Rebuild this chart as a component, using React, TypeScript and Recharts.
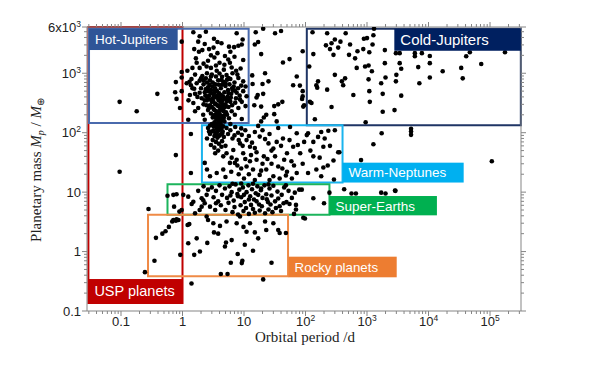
import React from 'react'
import { ScatterChart, Scatter, XAxis, YAxis, ReferenceArea } from 'recharts'

type Pt = [number, number] // [orbital period (d), mass (Earth masses)]

const hotJupiters: Pt[] = [
  [1.5, 4900], [2.4, 5000], [7.6, 4700], [1.9, 4200], [3.25, 3800], [3.7, 3350], [4.3, 3200], [5.7, 2800],
  [6.9, 2750], [8.1, 2900], [9.5, 3700], [9.2, 3050], [1.8, 3400], [2.3, 3100], [1.55, 2550], [2.1, 2450],
  [2.7, 2550], [1.85, 2300], [1.65, 1780], [3.7, 2180], [3.3, 1840], [2.6, 1620], [1.45, 1230], [1.9, 1230],
  [2.47, 1300], [2.9, 1230], [3.5, 1350], [4.8, 1390], [5.55, 1700], [9.7, 1670], [7.45, 1100], [8.1, 830],
  [9.7, 730], [10.6, 600], [9.7, 500], [11, 410], [9.2, 330], [10.6, 280], [8.1, 260], [7.1, 200], [9.2, 170],
  [1.24, 165], [0.97, 500], [0.97, 850], [0.91, 260], [1.17, 680], [1.37, 630], [1.32, 430], [1.5, 315],
  [1.8, 260], [1.6, 230], [2.17, 200], [2.3, 165], [0.97, 3400], [0.97, 1050], [0.78, 710], [0.8, 370],
  [0.76, 480], [2.1, 900], [2.4, 820], [2.8, 760], [3.1, 700], [3.5, 880], [3.9, 640], [4.2, 560], [4.6, 720],
  [5.0, 610], [5.5, 520], [6.2, 450], [6.8, 600], [7.4, 380], [2.2, 650], [2.6, 580], [2.9, 520], [3.3, 470],
  [3.7, 420], [4.1, 390], [4.5, 350], [3.0, 330], [3.4, 300], [3.8, 280], [4.2, 260], [4.6, 240], [5.1, 220],
  [3.2, 250], [3.6, 230], [4.0, 210], [4.4, 190], [3.5, 180], [3.9, 170], [4.3, 160], [3.3, 150], [2.5, 1000],
  [3.0, 950], [3.6, 1100], [4.0, 990], [4.4, 870], [5.2, 930], [6.0, 800], [6.5, 1000], [7.0, 700], [5.8, 650],
  [2.0, 560], [2.3, 480], [2.7, 420], [3.1, 380], [2.5, 350], [2.8, 290], [2.2, 300], [2.6, 240], [2.9, 210],
  [3.1, 180], [5.4, 400], [6.0, 330], [5.0, 300], [5.6, 270], [6.4, 290], [7.2, 320], [8.5, 420], [8.0, 560],
  [9.0, 620], [7.8, 950], [8.8, 1200], [6.3, 1250], [4.7, 1150], [4.0, 1500], [5.9, 1500], [7.0, 1900],
  [4.9, 1950], [6.0, 2300], [3.2, 2700], [2.9, 2000], [1.7, 1500], [2.2, 1450], [1.4, 800], [1.6, 950],
  [1.9, 750], [1.2, 1100], [1.55, 550], [1.75, 400], [2.05, 380], [4.8, 480], [3.4, 560], [3.8, 760],
  [4.4, 640], [5.3, 780], [6.6, 520], [7.6, 470], [8.6, 360], [3.9, 350], [4.3, 320], [4.9, 270], [5.3, 200],
  [4.7, 180], [5.7, 175], [6.3, 230], [3.6, 200], [4.1, 240],
  [2.2, 760], [2.5, 700], [2.75, 640], [3.05, 600], [3.35, 540], [3.65, 500], [3.95, 460], [4.25, 430],
  [4.55, 410], [4.85, 380], [2.4, 540], [2.65, 500], [2.95, 460], [3.25, 420], [3.55, 390], [3.85, 360],
  [4.15, 330], [4.45, 300], [4.75, 280], [2.35, 420], [2.55, 390], [2.85, 360], [3.15, 340], [3.45, 310],
  [3.75, 290], [4.05, 270], [4.35, 250], [4.65, 230], [4.95, 205], [3.0, 270], [3.3, 240], [3.6, 215],
  [3.9, 195], [4.2, 175], [4.5, 165], [4.8, 155], [3.4, 200], [3.7, 185], [4.0, 155], [3.55, 165], [3.85, 150],
  [4.15, 145], [3.2, 195], [2.7, 260], [2.45, 290], [2.3, 350], [5.3, 340], [5.8, 360], [6.1, 390], [5.6, 460],
  [6.4, 560], [7.1, 510], [5.0, 680], [5.6, 830], [4.3, 770], [3.4, 650], [2.9, 880], [2.0, 820], [1.7, 680],
  [1.45, 560], [1.3, 720], [1.25, 350], [1.6, 450], [1.9, 470],
]

const coldJupiters: Pt[] = [
  [130, 4900], [225, 4700], [450, 4700], [890, 3800], [1000, 3900], [300, 3700], [265, 3200], [215, 2950],
  [250, 2550], [340, 2700], [370, 3400], [530, 3050], [700, 2350], [870, 2550], [1090, 2250], [1270, 4350],
  [1230, 3050], [510, 2040], [640, 1780], [285, 2040], [134, 2100], [1950, 2450], [2950, 2180], [3400, 2180],
  [6000, 2180], [6000, 1930], [10500, 1950], [7800, 2180], [41000, 1930], [47000, 2250], [175000, 2250],
  [72000, 1430], [36000, 820], [34000, 1230], [17000, 1080], [10500, 850], [10500, 1480], [6800, 1270],
  [7100, 680], [3600, 1190], [3000, 940], [2950, 730], [3400, 1480], [1950, 1480], [2000, 850], [1700, 680],
  [1800, 450], [3600, 420], [2800, 240], [1800, 225], [950, 150], [1110, 330], [1090, 500], [1060, 790],
  [1200, 1080], [930, 1300], [680, 1230], [1060, 1350], [600, 430], [410, 630], [440, 820], [300, 940],
  [225, 530], [160, 730], [150, 630], [155, 570], [115, 1300], [118, 330], [125, 315], [265, 270], [142, 168],
  [1300, 5600], [390, 730],
]

const midGiants: Pt[] = [
  [15.5, 4900], [20.5, 5600], [32, 4700], [40, 5150], [17, 3350], [15, 3050], [19, 2100], [90, 2350],
  [55, 1730], [43, 1520], [22, 1000], [13.6, 920], [13.8, 660], [20, 660], [25, 730], [72, 880], [63, 630],
  [81, 620], [90, 500], [88, 370], [16.7, 430], [16, 390], [20.5, 450], [14.7, 290], [19, 275], [31, 280],
  [36, 300], [42, 330], [23, 200], [21, 180], [31, 205], [19, 155], [34, 155], [56, 125], [92, 275], [95, 290],
  [90, 410],
]

const warmNeptunes: Pt[] = [
  [3.0, 140], [3.4, 130], [3.8, 125], [4.2, 135], [2.6, 120], [3.2, 110], [3.6, 100], [4.0, 112], [4.5, 105],
  [2.8, 95], [3.3, 88], [3.7, 82], [4.1, 92], [4.7, 85], [5.2, 120], [3.1, 75], [3.5, 70], [3.9, 65], [4.4, 72],
  [2.9, 62], [3.3, 56], [3.8, 50], [4.3, 58], [5.0, 60], [5.5, 95], [2.5, 80], [2.7, 105], [6.0, 110],
  [6.5, 80], [7.2, 125], [8.0, 100], [9.0, 118], [1.37, 95], [0.78, 42], [1.37, 21], [9.2, 92], [15, 103],
  [18, 86], [25, 66], [34, 70], [43, 80], [72, 98], [105, 91], [134, 70], [180, 103], [235, 108], [300, 110],
  [340, 47], [195, 58], [285, 34], [150, 24], [110, 21], [72, 21], [50, 22], [36, 27], [28, 30], [21, 40],
  [16, 47], [12.5, 58], [9.7, 45], [7.6, 35], [5.9, 31], [4.6, 24], [3.6, 21], [2.8, 18.5], [2.5, 24],
  [2.3, 31], [3.4, 45], [4.6, 40], [6.7, 51], [8.6, 66], [11, 75], [7.1, 31], [11, 27], [14, 24], [18, 19.5],
  [23, 24], [30, 18.5], [38, 17], [59, 33], [82, 45], [50, 45], [63, 58], [30, 54], [12.5, 33], [110, 98],
  [205, 80], [355, 47], [134, 40], [195, 26], [180, 18.5], [290, 16.3], [6.0, 140], [7.0, 90], [8.2, 75],
  [9.5, 60], [10.5, 110], [12, 88], [13.5, 68], [15, 55], [17, 130], [20, 110], [22, 78], [26, 95], [28, 50],
  [32, 40], [36, 120], [40, 60], [45, 35], [55, 75], [65, 28], [75, 62], [90, 30], [95, 70], [120, 50],
  [160, 85], [170, 38], [250, 60], [230, 28], [5.2, 45], [6.3, 38], [7.8, 28], [9.0, 25], [10.5, 36], [13, 42],
  [16, 35], [20, 30], [24, 36], [5.0, 18], [6.2, 22], [8.2, 20], [10, 17], [12, 20], [15, 16], [19, 23],
  [26, 16], [42, 25], [48, 19], [60, 17],
  [3.2, 128], [3.6, 118], [4.0, 128], [3.4, 100], [3.8, 108], [4.3, 118], [3.0, 105], [3.5, 92], [3.9, 88],
  [4.4, 98], [3.6, 140], [4.6, 128], [2.8, 132],
]

const superEarths: Pt[] = [
  [67, 9.8], [79, 11], [87, 11], [134, 7.9], [200, 6.5], [245, 9.8], [70, 6.1], [70, 5.1], [92, 3.7],
  [98, 3.6], [65, 4.3], [55, 6.3], [0.57, 8.7], [0.71, 9.0], [0.8, 9.2], [1.03, 9.0], [0.89, 4.7], [0.97, 5.0],
  [0.73, 5.7], [1.41, 6.3], [1.6, 4.4], [1.24, 8.4], [1.5, 6.9], [2.05, 7.9], [2.47, 9.0], [2.8, 5.7],
  [3.4, 5.0], [3.5, 6.5], [0.71, 3.4], [0.8, 3.5], [3.0, 12], [3.5, 10.5], [4.0, 13], [4.4, 9], [4.9, 11.5],
  [5.3, 8], [5.8, 12.5], [6.3, 10], [6.8, 7.2], [7.3, 13.5], [7.8, 9.3], [8.4, 11], [9.0, 8.2], [9.6, 12],
  [10.3, 6.8], [11, 10], [11.8, 13], [12.6, 8.5], [13.5, 11.2], [14.5, 7.5], [15.5, 9.6], [16.5, 12.5],
  [17.6, 6.2], [18.8, 10.8], [20, 8], [21.5, 13], [23, 9.2], [24.5, 6.8], [26, 11.5], [28, 8.8], [30, 12.8],
  [32, 7], [35, 10.2], [38, 5.8], [41, 9], [45, 12], [49, 6.8], [53, 10.5], [4.2, 6], [5.0, 5], [5.6, 6.6],
  [6.5, 4.6], [7.0, 5.6], [8.0, 4.2], [8.8, 6.0], [9.8, 4.8], [10.8, 5.4], [12, 4.3], [13, 6.1], [14, 5.2],
  [15, 4.5], [16, 7], [18, 4.9], [19.5, 5.8], [22, 4.4], [23.5, 7.6], [25, 5.1], [27, 6.2], [29, 4.6],
  [33, 5.4], [36, 7.8], [40, 4.8], [44, 6.5], [3.2, 8.2], [3.8, 7], [2.6, 11], [2.2, 12.5], [1.8, 10.5],
  [1.9, 5], [2.3, 6.5], [6, 8.8], [8, 8.5], [10, 9], [12, 7.5], [17, 9], [19, 11.5], [25, 13.5], [60, 8],
  [48, 13], [14, 13.8], [9, 14], [6.5, 13.8], [425, 11.2], [560, 9.5], [660, 9.5], [1700, 9.8], [2900, 10.5],
]

const rockyPlanets: Pt[] = [
  [0.28, 5.2], [0.37, 1.7], [0.47, 2.0], [0.53, 2.2], [0.6, 2.6], [0.68, 3.2], [0.78, 3.3], [0.86, 3.4],
  [0.35, 0.7], [0.245, 0.45], [0.92, 0.88], [1.4, 0.29], [1.24, 1.38], [1.29, 2.9], [1.55, 0.88], [1.7, 1.67],
  [1.92, 1.0], [2.53, 1.4], [4.2, 0.42], [5.4, 0.42], [6.1, 0.65], [9.4, 0.7], [7.9, 0.91], [20.5, 0.34],
  [28, 0.65], [1.21, 2.8], [4.9, 1.22], [5.1, 1.42], [6.3, 1.56], [3.8, 2.0], [3.25, 2.1], [4.07, 2.7],
  [3.17, 3.0], [2.6, 3.4], [2.47, 3.9], [2.05, 5.7], [2.18, 7.3], [5.2, 3.2], [7.6, 3.0], [9.8, 2.6], [11, 2.15],
  [15, 2.1], [17, 1.67], [14, 1.03], [36, 2.3], [38, 2.05], [48, 2.05], [23, 2.3], [22, 3.2], [30, 3.0],
  [12.5, 3.0], [8.6, 3.9], [10.3, 1.3], [9.2, 0.64],
]

const outliers: Pt[] = [
  [0.095, 330], [0.18, 230], [0.39, 450], [0.095, 22], [1730, 98], [5200, 116], [5200, 92], [5200, 105],
  [1270, 64], [800, 34.6], [107000, 33], [2000, 9.5], [2850, 10.6],
]

const planets = [...hotJupiters, ...coldJupiters, ...midGiants, ...warmNeptunes, ...superEarths, ...rockyPlanets, ...outliers]
  .map(([period, mass]) => ({ period, mass }))

// region boxes: name, colour, period range, mass range
const regionNames = ['USP planets', 'Hot-Jupiters', 'Cold-Jupiters', 'Warm-Neptunes', 'Super-Earths', 'Rocky planets']
const regionColors = ['#c00000', '#2f5597', '#002060', '#00b0f0', '#00b050', '#ed7d31']
const regionLines = ['#c00000', '#4a6aad', '#1f3565', '#1ab4ee', '#1cb45c', '#ef8a46']
const regionPeriod: Pt[] = [[0.0295, 1], [0.0302, 11.9], [105, 3.17e5], [2.07, 400], [0.57, 245], [0.275, 52]]
const regionMass: Pt[] = [[0.136, 6000], [145, 5610], [134, 5610], [14.5, 134], [4.15, 13.6], [0.384, 4.15]]
// label tag boxes
const tagPeriod: Pt[] = [[0.0295, 1.02], [0.0302, 0.835], [2780, 3.17e5], [400, 37300], [245, 13700], [53, 3040]]
const tagMass: Pt[] = [[0.136, 0.345], [2460, 5610], [2390, 5610], [14.5, 31.3], [4.07, 8.6], [0.369, 0.82]]
const tagFont = [14.5, 13.5, 15, 13.5, 13.5, 13.3]

const xMajor = [0.1, 1, 10, 100, 1000, 10000, 100000]
const xMajorText = ['0.1', '1', '10', '10^2', '10^3', '10^4', '10^5']
const yMajor = [0.1, 1, 10, 100, 1000, 6000]
const yMajorText = ['0.1', '1', '10', '10^2', '10^3', '6x10^3']

const xDomain: Pt = [0.028, 3.19e5]
const yDomain: Pt = [0.1, 6000]

function minorTicks(lo: number, hi: number) {
  const out: number[] = []
  for (let e = -2; e <= 5; e++) {
    for (let m = 2; m <= 9; m++) {
      const v = m * Math.pow(10, e)
      if (v > lo && v < hi) out.push(v)
    }
  }
  return out
}

const xTicks = [...xMajor, ...minorTicks(xDomain[0], xDomain[1])]
const yTicks = [...yMajor, ...minorTicks(yDomain[0], 5500)]

const AXIS = '#858585'
const SANS = 'Liberation Sans, Arial, Helvetica, sans-serif'
const SERIF = 'Liberation Serif, Times New Roman, serif'

function majorIndex(list: number[], v: number) {
  return list.findIndex((t) => Math.abs(t - v) / t < 1e-6)
}

function TickText({ x, y, text, anchor }: { x: number; y: number; text: string; anchor: 'middle' | 'end' }) {
  const [base, sup] = text.split('^')
  return (
    <text x={x} y={y} textAnchor={anchor} fontSize={13} fontFamily={SANS} fill="#222">
      {base}
      {sup && (
        <tspan fontSize={8.5} dy={-5}>
          {sup}
        </tspan>
      )}
    </text>
  )
}

function BottomTick(props: any) {
  const { x, y, payload } = props
  const i = majorIndex(xMajor, payload.value)
  return (
    <g>
      <line x1={x} y1={y} x2={x} y2={y + (i >= 0 ? 5 : 3)} stroke={AXIS} />
      {i >= 0 && <TickText x={x} y={y + 15} text={xMajorText[i]} anchor="middle" />}
    </g>
  )
}

function TopTick(props: any) {
  const { x, y, payload } = props
  const i = majorIndex(xMajor, payload.value)
  return <line x1={x} y1={y} x2={x} y2={y - (i >= 0 ? 5 : 3)} stroke={AXIS} />
}

function LeftTick(props: any) {
  const { x, y, payload } = props
  const i = majorIndex(yMajor, payload.value)
  return (
    <g>
      <line x1={x} y1={y} x2={x - (i >= 0 ? 5 : 3)} y2={y} stroke={AXIS} />
      {i >= 0 && <TickText x={x - 6} y={y + 4.5} text={yMajorText[i]} anchor="end" />}
    </g>
  )
}

function RightTick(props: any) {
  const { x, y, payload } = props
  const i = majorIndex(yMajor, payload.value)
  return <line x1={x} y1={y} x2={x + (i >= 0 ? 5 : 3)} y2={y} stroke={AXIS} />
}

const Dot = (p: any) => <circle cx={p.cx} cy={p.cy} r={2.3} fill="#000" />

const tagShape = (i: number) => (p: any) => (
  <g>
    <rect x={p.x} y={p.y} width={p.width} height={p.height} fill={regionColors[i]} />
    <text
      x={p.x + 6}
      y={p.y + p.height / 2}
      dy="0.36em"
      fill="#fff"
      fontSize={tagFont[i]}
      fontFamily={SANS}
    >
      {regionNames[i]}
    </text>
  </g>
)

const XTitle = (props: any) => {
  const vb = props.viewBox
  return (
    <text x={vb.x + vb.width / 2 + 1} y={vb.y + 31} textAnchor="middle" fontSize={15} fontFamily={SERIF} fill="#222">
      Orbital period /d
    </text>
  )
}

const YTitle = () => (
  <text
    x={41}
    y={170}
    transform="rotate(-90 41 170)"
    textAnchor="middle"
    fontSize={15}
    fontFamily={SERIF}
    fill="#222"
  >
    Planetary mass{' '}
    <tspan fontStyle="italic">M</tspan>
    <tspan fontStyle="italic" fontSize={10} dy={3}>p</tspan>
    <tspan dy={-3}> / </tspan>
    <tspan fontStyle="italic">M</tspan>
    <tspan fontSize={10} dy={3}>⊕</tspan>
  </text>
)

export default function App() {
  return (
    <div style={{ position: 'absolute', left: 0, top: 0, background: '#fff' }}>
      <ScatterChart width={591} height={375} margin={{ top: 17, right: 60, bottom: 24, left: 27 }}>
        <XAxis
          type="number"
          dataKey="period"
          scale="log"
          domain={xDomain}
          allowDataOverflow
          ticks={xTicks}
          interval={0}
          tickSize={0}
          tickMargin={0}
          tickLine={false}
          tick={BottomTick}
          axisLine={{ stroke: AXIS }}
          height={40}
          label={XTitle}
        />
        <XAxis
          xAxisId="top"
          orientation="top"
          type="number"
          dataKey="period"
          scale="log"
          domain={xDomain}
          allowDataOverflow
          ticks={xTicks}
          interval={0}
          tickSize={0}
          tickMargin={0}
          tickLine={false}
          tick={TopTick}
          axisLine={{ stroke: AXIS }}
          height={10}
        />
        <YAxis
          type="number"
          dataKey="mass"
          scale="log"
          domain={yDomain}
          allowDataOverflow
          ticks={yTicks}
          interval={0}
          tickSize={0}
          tickMargin={0}
          tickLine={false}
          tick={LeftTick}
          axisLine={{ stroke: AXIS }}
          width={60}
          label={YTitle}
        />
        <YAxis
          yAxisId="right"
          orientation="right"
          type="number"
          dataKey="mass"
          scale="log"
          domain={yDomain}
          allowDataOverflow
          ticks={yTicks}
          interval={0}
          tickSize={0}
          tickMargin={0}
          tickLine={false}
          tick={RightTick}
          axisLine={{ stroke: AXIS }}
          width={10}
        />
        {regionNames.map((name, i) => (
          <ReferenceArea
            key={name}
            x1={regionPeriod[i][0]}
            x2={regionPeriod[i][1]}
            y1={regionMass[i][0]}
            y2={regionMass[i][1]}
            fill="none"
            fillOpacity={0}
            stroke={regionLines[i]}
            strokeWidth={2}
            ifOverflow="visible"
          />
        ))}
        <Scatter data={planets} shape={Dot} isAnimationActive={false} />
        {regionNames.map((name, i) => (
          <ReferenceArea
            key={'tag-' + name}
            x1={tagPeriod[i][0]}
            x2={tagPeriod[i][1]}
            y1={tagMass[i][0]}
            y2={tagMass[i][1]}
            shape={tagShape(i)}
            ifOverflow="visible"
            zIndex={700}
          />
        ))}
      </ScatterChart>
    </div>
  )
}
